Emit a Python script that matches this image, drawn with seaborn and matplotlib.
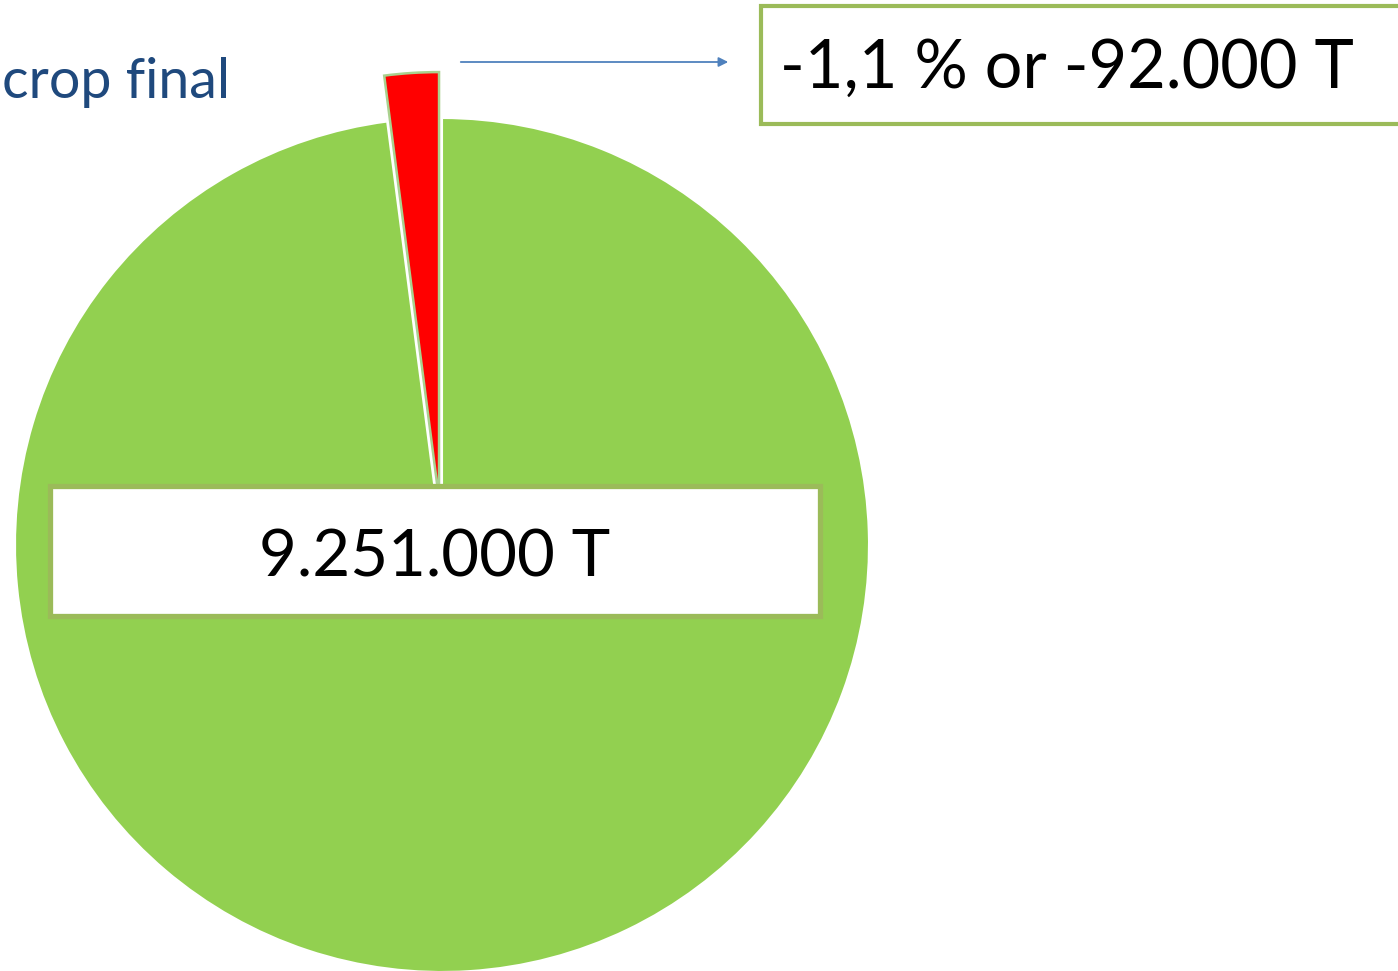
import matplotlib
matplotlib.use("Agg")
import matplotlib.pyplot as plt
import seaborn as sns
from matplotlib.patches import Rectangle

sns.set_style("white")
plt.rcParams['font.family'] = ['Lato', 'DejaVu Sans']

# Data (slice shares; labels as shown)
slice_names = ["Loss", "Final crop"]
slice_share = [2.05, 97.95]
slice_colors = ["#FF0000", "#92D050"]
loss_label = "-1,1 % or -92.000 T"
crop_label = "9.251.000 T"
title_text = "crop final"

W, H = 1398, 971
fig = plt.figure(figsize=(W / 100, H / 100), dpi=100)
ax = fig.add_axes([0, 0, 1, 1])

def Y(y):
    return H - y

cx, cy, r = 442, 545, 427
wedges, _ = ax.pie(slice_share, colors=slice_colors, startangle=90, counterclock=True,
                   explode=[46, 0], center=(cx, Y(cy)), radius=r, frame=True)
ax.set_xlim(0, W)
ax.set_ylim(0, H)
ax.set_aspect("equal")
ax.axis("off")
wedges[0].set_edgecolor("#A9D18E")
wedges[0].set_linewidth(1.8)
wedges[1].set_edgecolor("white")
wedges[1].set_linewidth(1.5)

# Title (at left edge)
ax.text(2, Y(98), title_text, ha="left", va="baseline", fontsize=40, color="#1F497D")

# Arrow
ax.annotate("", xy=(731, Y(62)), xytext=(458, Y(62)),
            arrowprops=dict(arrowstyle="-|>", color="#4F81BD", lw=1.3, mutation_scale=14))

# Loss label box
ax.add_patch(Rectangle((761, Y(124)), 700, 118, facecolor="white", edgecolor="#9BBB59", lw=3.0, zorder=5))
ax.text(780, Y(69), loss_label, ha="left", va="center", fontsize=48, color="black", zorder=6)

# Crop label box
ax.add_patch(Rectangle((50, Y(616)), 770, 130, facecolor="white", edgecolor="#9BBB59", lw=3.8, zorder=5))
ax.text(435, Y(558), crop_label, ha="center", va="center", fontsize=47, color="black", zorder=6)

fig.savefig("out.png", dpi=100)
